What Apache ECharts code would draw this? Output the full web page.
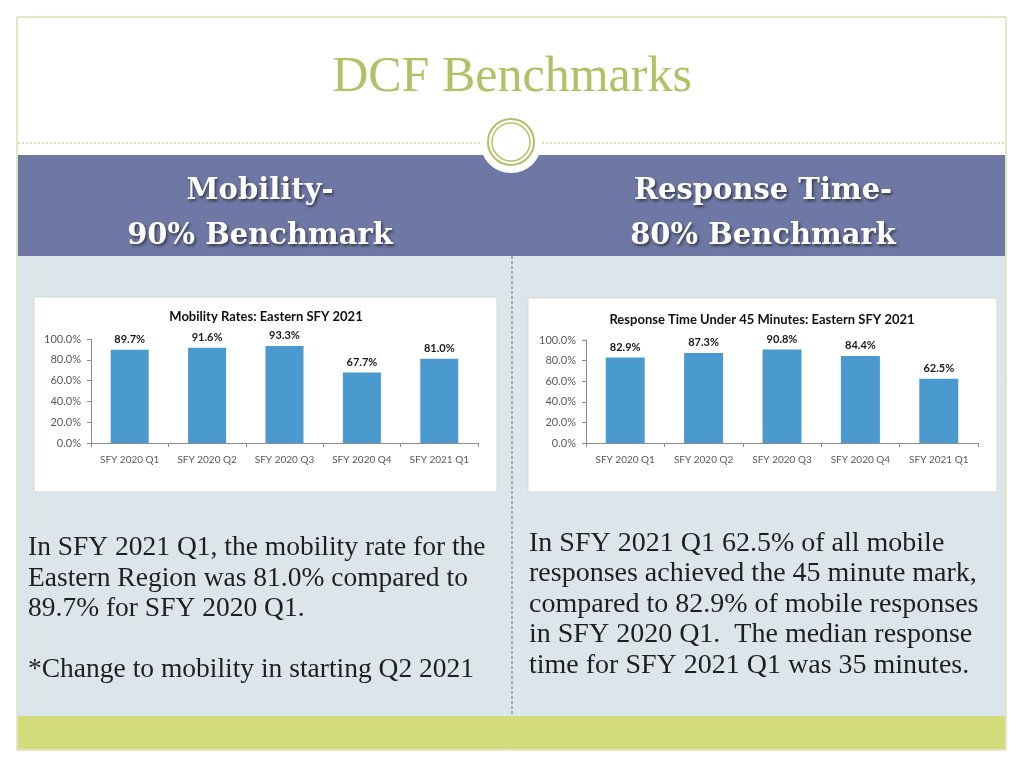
<!DOCTYPE html>
<html>
<head>
<meta charset="utf-8">
<script src="https://cdn.jsdelivr.net/npm/echarts@6/dist/echarts.min.js"></script>
<style>
html,body{margin:0;padding:0;background:#fff;}
#c{width:1024px;height:768px;}
</style>
</head>
<body>
<div id="c"></div>
<script>
// ---- data ----
const slideTitle = 'DCF Benchmarks';
const leftHeading = 'Mobility-\n90% Benchmark';
const rightHeading = 'Response Time-\n80% Benchmark';
const categories = ['SFY 2020 Q1', 'SFY 2020 Q2', 'SFY 2020 Q3', 'SFY 2020 Q4', 'SFY 2021 Q1'];
const mobilityValues = [89.7, 91.6, 93.3, 67.7, 81.0];
const responseValues = [82.9, 87.3, 90.8, 84.4, 62.5];
const mobilityTitle = 'Mobility Rates: Eastern SFY 2021';
const responseTitle = 'Response Time Under 45 Minutes: Eastern SFY 2021';
const yMin = 0, yMax = 100, yStep = 20;
const leftText = [
  'In SFY 2021 Q1, the mobility rate for the',
  'Eastern Region was 81.0% compared to',
  '89.7% for SFY 2020 Q1.',
  '',
  '*Change to mobility in starting Q2 2021'
];
const rightText = [
  'In SFY 2021 Q1 62.5% of all mobile',
  'responses achieved the 45 minute mark,',
  'compared to 82.9% of mobile responses',
  'in SFY 2020 Q1.  The median response',
  'time for SFY 2021 Q1 was 35 minutes.'
];

// ---- chart ----
const chart = echarts.init(document.getElementById('c'), null, {renderer: 'canvas'});
const FRAME = '#c3d08a';
const GREEN = '#b1c266';
const PURPLE = '#6f78a4';
const PANEL = '#dce6ea';
const BAND = '#d3dc7b';
const BAR = '#4a9ad0';
const AXIS = '#8c8c8c';
const SANS = 'Lato, "Open Sans", sans-serif';

function yAxis(gi) {
  return {
    type: 'value', gridIndex: gi, min: yMin, max: yMax, interval: yStep, z: 10,
    axisLine: {show: true, lineStyle: {color: AXIS}},
    axisTick: {show: true, length: 4, lineStyle: {color: AXIS}},
    splitLine: {show: false},
    axisLabel: {color: '#595959', fontFamily: SANS, fontSize: 11, margin: 10,
      formatter: v => v.toFixed(1) + '%'}
  };
}
function xAxis(gi) {
  return {
    type: 'category', gridIndex: gi, data: categories, z: 10,
    axisLine: {show: true, lineStyle: {color: AXIS}},
    axisTick: {show: true, length: 4, lineStyle: {color: AXIS}},
    axisLabel: {color: '#595959', fontFamily: SANS, fontSize: 10, margin: 12}
  };
}
function barSeries(gi, data, bw) {
  return {
    type: 'bar', xAxisIndex: gi, yAxisIndex: gi, data: data, barWidth: bw, z: 10,
    itemStyle: {color: BAR}, silent: true,
    label: {show: true, position: 'top', distance: 5, color: '#1a1a1a',
      fontFamily: SANS, fontWeight: 'bold', fontSize: 11,
      formatter: p => p.value.toFixed(1) + '%'}
  };
}

const headStyle = {fill: '#ffffff', font: 'bold 29px "DejaVu Serif", serif', textAlign: 'center', textVerticalAlign: 'middle', lineHeight: 45, textShadowColor: 'rgba(0,0,0,0.55)', textShadowBlur: 3, textShadowOffsetX: 1.5, textShadowOffsetY: 1.5};

const graphics = [
  {type: 'rect', shape: {x: 17, y: 17, width: 989, height: 733}, style: {fill: '#ffffff', stroke: FRAME, lineWidth: 1}, z: 0},
  {type: 'rect', shape: {x: 18, y: 256, width: 987, height: 460}, style: {fill: PANEL}, z: 1},
  {type: 'rect', shape: {x: 18, y: 716, width: 987, height: 33}, style: {fill: BAND}, z: 1},
  {type: 'rect', shape: {x: 18, y: 155, width: 987, height: 101}, style: {fill: PURPLE}, z: 1},
  {type: 'line', shape: {x1: 18, y1: 143, x2: 1005, y2: 143}, style: {stroke: GREEN, lineWidth: 1, lineDash: [2, 2]}, z: 1},
  {type: 'circle', shape: {cx: 511, cy: 142, r: 31}, style: {fill: '#ffffff'}, z: 2},
  {type: 'circle', shape: {cx: 511, cy: 142, r: 23}, style: {fill: 'none', stroke: GREEN, lineWidth: 2}, z: 3},
  {type: 'circle', shape: {cx: 511, cy: 142, r: 19}, style: {fill: 'none', stroke: GREEN, lineWidth: 1.5}, z: 3},
  {type: 'line', shape: {x1: 512, y1: 256, x2: 512, y2: 716}, style: {stroke: '#7d868a', lineWidth: 1.2, lineDash: [3, 2]}, z: 2},
  {type: 'text', x: 512, y: 78, z: 3, style: {text: slideTitle, fill: GREEN, font: '50px "Liberation Serif", serif', textAlign: 'center', textVerticalAlign: 'middle'}},
  {type: 'text', x: 260, y: 214, z: 3, style: Object.assign({text: leftHeading}, headStyle)},
  {type: 'text', x: 763, y: 214, z: 3, style: Object.assign({text: rightHeading}, headStyle)},
  {type: 'rect', shape: {x: 34, y: 297, width: 463, height: 195}, style: {fill: '#ffffff', stroke: '#cfd6d9', lineWidth: 1}, z: 2},
  {type: 'rect', shape: {x: 528, y: 298, width: 469, height: 194}, style: {fill: '#ffffff', stroke: '#cfd6d9', lineWidth: 1}, z: 2},
  {type: 'text', x: 266, y: 317, z: 3, style: {text: mobilityTitle, fill: '#111', font: 'bold 13px ' + SANS, textAlign: 'center', textVerticalAlign: 'middle'}},
  {type: 'text', x: 762, y: 320, z: 3, style: {text: responseTitle, fill: '#111', font: 'bold 13px ' + SANS, textAlign: 'center', textVerticalAlign: 'middle'}},
  {type: 'text', x: 28, y: 533, z: 3, style: {text: leftText.join('\n'), fill: '#1e1e1e', font: '27.5px "Liberation Serif", serif', textAlign: 'left', textVerticalAlign: 'top', lineHeight: 30.5}},
  {type: 'text', x: 529, y: 528, z: 3, style: {text: rightText.join('\n'), fill: '#1e1e1e', font: '28px "Liberation Serif", serif', textAlign: 'left', textVerticalAlign: 'top', lineHeight: 30.5}}
];

chart.setOption({
  animation: false,
  backgroundColor: '#ffffff',
  graphic: {elements: graphics},
  grid: [
    {left: 91, top: 339, width: 387, height: 104},
    {left: 586, top: 340, width: 392, height: 103}
  ],
  xAxis: [xAxis(0), xAxis(1)],
  yAxis: [yAxis(0), yAxis(1)],
  series: [barSeries(0, mobilityValues, 38), barSeries(1, responseValues, 39)]
});
</script>
</body>
</html>
